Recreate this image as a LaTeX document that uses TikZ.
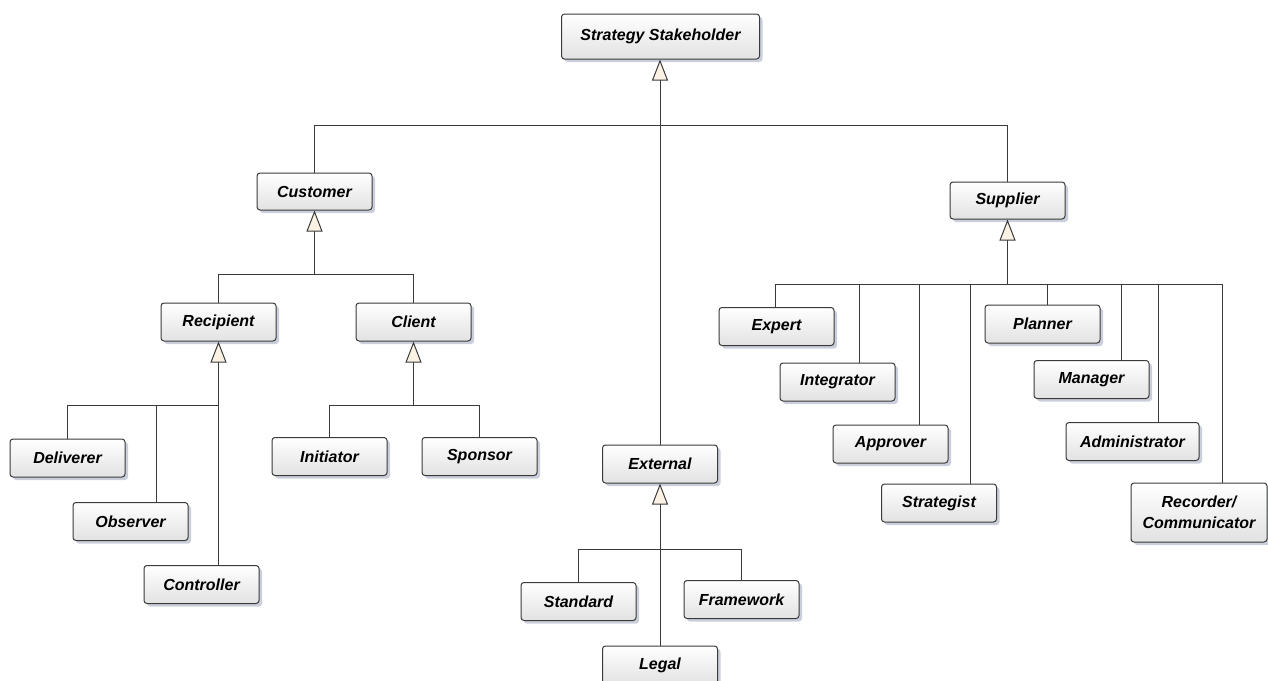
\documentclass[tikz,border=0pt]{standalone}
\usepackage{fontspec}
\setmainfont{Liberation Sans}
\usetikzlibrary{arrows.meta,shadows}
\definecolor{linecol}{HTML}{3A3A3A}
\definecolor{boxbot}{HTML}{E2E2E2}
\definecolor{shadecol}{HTML}{CBCFDC}
\definecolor{tipfill}{HTML}{FBF2E4}
\tikzset{
  cls/.style={draw=linecol, line width=1pt, rounded corners=3pt,
    top color=white, bottom color=boxbot,
    minimum width=115pt, minimum height=38pt, inner sep=0pt,
    font=\fontsize{16}{21}\selectfont\bfseries\itshape, align=center,
    drop shadow={shadow xshift=3pt, shadow yshift=-3pt, fill=shadecol, opacity=1}},
  link/.style={draw=linecol, line width=1pt},
  gen/.style={link, -{Triangle[length=21pt,width=16pt,fill=tipfill]}},
}
\begin{document}
\begin{tikzpicture}[x=1pt,y=-1pt]
\useasboundingbox (0,0) rectangle (1268,680);
\clip (0,0) rectangle (1268,680);

% root
\node[cls, minimum width=198pt, minimum height=45pt] (top) at (660.5,36.5) {Strategy Stakeholder};

% first level
\node[cls, minimum height=37pt] (cust) at (314.5,191.5) {Customer};
\node[cls, minimum height=37pt] (supp) at (1007.5,200.5) {Supplier};
\node[cls] (ext) at (660,464) {External};

% customer branch
\node[cls] (recip)  at (218.5,322)   {Recipient};
\node[cls] (client) at (413.5,322)   {Client};
\node[cls] (deliv)  at (67.5,458)    {Deliverer};
\node[cls] (observ) at (130.5,521.5) {Observer};
\node[cls] (control) at (201.5,584.5) {Controller};
\node[cls] (init)   at (329.5,456.5) {Initiator};
\node[cls] (spons)  at (479.5,456.5) {Sponsor};

% external branch
\node[cls] (std)   at (578.5,601.5) {Standard};
\node[cls] (frame) at (741.5,599.5) {Framework};
\node[cls] (legal) at (660,665)     {Legal};

% supplier branch
\node[cls] (expert) at (776.5,326.5) {Expert};
\node[cls] (integ)  at (837.5,382)   {Integrator};
\node[cls] (approv) at (890.5,444)   {Approver};
\node[cls] (strat)  at (939,503)     {Strategist};
\node[cls] (plan)   at (1042.5,324)  {Planner};
\node[cls] (manag)  at (1091.5,379.5) {Manager};
\node[cls, minimum width=133pt] (admin) at (1132.5,441.5) {Administrator};
\node[cls, minimum width=136pt, minimum height=59pt] (recor) at (1199,512.5) {Recorder/\\Communicator};

% junction points of the generalisation trees
\coordinate (jT)  at (660.5,125);
\coordinate (jC)  at (314.5,274);
\coordinate (jR)  at (218.5,405);
\coordinate (jCl) at (413.5,405);
\coordinate (jE)  at (660,549);
\coordinate (jS)  at (1007.5,284);

% root tree
\draw[gen] (ext.north) -- (ext.north |- top.south);
\draw[link] (cust.north) |- (jT);
\draw[link] (supp.north) |- (jT);

% customer tree
\draw[gen] (jC) -- (cust.south);
\draw[link] (recip.north) |- (jC);
\draw[link] (client.north) |- (jC);

\draw[gen] (jR) -- (recip.south);
\draw[link] (deliv.north) |- (jR);
\draw[link] ([xshift=25.5pt]observ.north) |- (jR);
\draw[link] ([xshift=17pt]control.north) -- (jR);

\draw[gen] (jCl) -- (client.south);
\draw[link] (init.north) |- (jCl);
\draw[link] (spons.north) |- (jCl);

% external tree
\draw[gen] (jE) -- (ext.south);
\draw[link] (std.north) |- (jE);
\draw[link] (frame.north) |- (jE);
\draw[link] (legal.north) -- (jE);

% supplier tree
\draw[gen] (jS) -- (supp.south);
\draw[link] ([xshift=-1.5pt]expert.north) |- (jS);
\draw[link] ([xshift=21.5pt]integ.north) |- (jS);
\draw[link] ([xshift=28.5pt]approv.north) |- (jS);
\draw[link] ([xshift=31pt]strat.north) |- (jS);
\draw[link] ([xshift=4.5pt]plan.north) |- (jS);
\draw[link] ([xshift=29.5pt]manag.north) |- (jS);
\draw[link] ([xshift=25.5pt]admin.north) |- (jS);
\draw[link] ([xshift=23pt]recor.north) |- (jS);
\end{tikzpicture}
\end{document}
